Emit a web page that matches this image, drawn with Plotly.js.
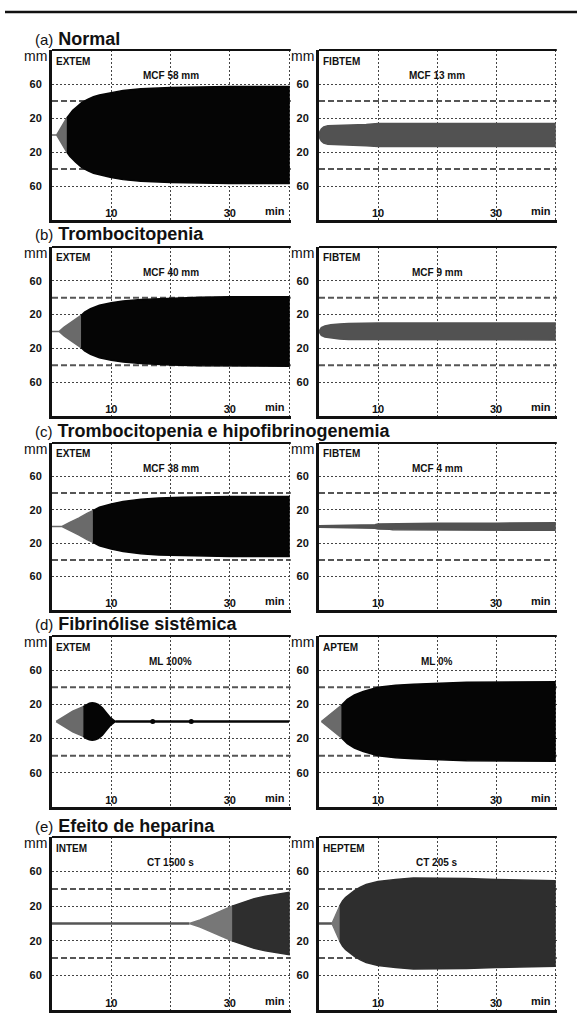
<!DOCTYPE html>
<html><head><meta charset="utf-8">
<script src="https://cdn.plot.ly/plotly-3.0.1.min.js"></script>
<style>html,body{margin:0;padding:0;background:#fff}#chart{width:577px;height:1022px}</style>
</head><body><div id="chart"></div>
<script>
// ---------- text ----------
const ROW_TAGS = ['(a)', '(b)', '(c)', '(d)', '(e)'];
const ROW_TITLES = ['Normal', 'Trombocitopenia', 'Trombocitopenia e hipofibrinogenemia', 'Fibrinólise sistêmica', 'Efeito de heparina'];
const ASSAYS = [['EXTEM', 'FIBTEM'], ['EXTEM', 'FIBTEM'], ['EXTEM', 'FIBTEM'], ['EXTEM', 'APTEM'], ['INTEM', 'HEPTEM']];
const RESULTS = [['MCF 58 mm', 'MCF 13 mm'], ['MCF 40 mm', 'MCF 9 mm'], ['MCF 38 mm', 'MCF 4 mm'], ['ML 100%', 'ML 0%'], ['CT 1500 s', 'CT 205 s']];
const X_TICK_VALS = [10, 20, 30, 40];
const X_TICK_TEXT = ['10', '', '30', ''];
const Y_TICK_VALS = [-60, -20, 20, 60];
const Y_TICK_TEXT = ['60', '20', '20', '60'];
const REF_AMPLITUDES = [40, -40];

// ---------- amplitude data (time in min, amplitude in mm) ----------
// (a) Normal
const A_EXTEM_INIT_T = [0, 0.8, 1.3, 1.9, 2.5];
const A_EXTEM_INIT_MM = [0, 0, 6, 13, 20];
const A_EXTEM_CLOT_T = [2.5, 3, 3.5, 4, 5, 6, 7, 8, 10, 12, 15, 20, 25, 30, 40];
const A_EXTEM_CLOT_MM = [20, 25, 29, 32, 38, 42, 45, 47, 50, 52.5, 54.5, 56, 56.5, 57, 57];
const A_FIBTEM_T = [0, 0.15, 0.4, 0.8, 1.5, 3, 5, 8, 10, 20, 40];
const A_FIBTEM_MM = [0, 4, 7, 9.5, 11, 11.3, 11.5, 12.5, 13.5, 13.5, 13.5];
// (b) Trombocitopenia
const B_EXTEM_INIT_T = [0, 1.2, 2, 3, 4, 4.9];
const B_EXTEM_INIT_MM = [0, 0, 5, 10, 15, 19];
const B_EXTEM_CLOT_T = [4.9, 5.5, 6.5, 8, 10, 12, 15, 20, 25, 30, 40];
const B_EXTEM_CLOT_MM = [19, 23, 27, 31, 34, 36, 38, 39.5, 40.5, 41, 41];
const B_FIBTEM_T = [0, 0.15, 0.4, 1, 2, 3.5, 5, 10, 40];
const B_FIBTEM_MM = [0, 2.5, 4.5, 6.5, 8, 9, 9.5, 10, 10];
// (c) Trombocitopenia e hipofibrinogenemia
const C_EXTEM_INIT_T = [0, 1.7, 3, 4.5, 6, 6.9];
const C_EXTEM_INIT_MM = [0, 0, 5, 10, 16, 19];
const C_EXTEM_CLOT_T = [6.9, 8, 10, 12, 15, 18, 22, 25, 30, 40];
const C_EXTEM_CLOT_MM = [19, 23, 27, 30, 32.5, 34, 35, 35.5, 36, 36];
const C_FIBTEM_T = [0, 2, 5, 9.5, 10, 12, 12.5, 20, 30, 38, 40];
const C_FIBTEM_MM = [1, 1.3, 1.7, 2, 3, 3.2, 4, 4, 4, 4.5, 4.5];
// (d) Fibrinólise sistêmica
const D_EXTEM_INIT_T = [0.7, 2, 3.5, 5.3];
const D_EXTEM_INIT_MM = [0, 6, 12, 17.5];
const D_EXTEM_CLOT_T = [5.3, 5.8, 6.3, 6.8, 7.3, 7.8, 8.5, 9.2, 9.8, 10.7];
const D_EXTEM_CLOT_MM = [17.5, 20, 21.5, 22, 21.5, 20, 16, 10, 5, 0];
const D_EXTEM_LINE_T = [10.7, 40];
const D_EXTEM_LINE_MM = [0, 0];
const D_EXTEM_DOTS_T = [17, 23.5];
const D_EXTEM_DOTS_MM = [0, 0];
const D_APTEM_INIT_T = [0.4, 1.5, 2.6, 3.8];
const D_APTEM_INIT_MM = [0, 6, 12, 19];
const D_APTEM_CLOT_T = [3.8, 4.3, 4.8, 6, 7.5, 10, 13, 16, 20, 25, 40];
const D_APTEM_CLOT_MM = [19, 23, 26, 31, 35, 40, 42.5, 43.5, 45, 46, 46.5];
// (e) Efeito de heparina
const E_INTEM_LINE_T = [0, 23.2];
const E_INTEM_LINE_MM = [0, 0];
const E_INTEM_INIT_T = [23.2, 25, 27, 29, 30.4];
const E_INTEM_INIT_MM = [0, 4, 10, 16, 20];
const E_INTEM_CLOT_T = [30.4, 32, 34, 36, 38, 40];
const E_INTEM_CLOT_MM = [20, 24, 28.5, 31.5, 34, 36];
const E_HEPTEM_LINE_T = [0, 2.2];
const E_HEPTEM_LINE_MM = [0, 0];
const E_HEPTEM_INIT_T = [2.2, 2.8, 3.5];
const E_HEPTEM_INIT_MM = [0, 9, 20];
const E_HEPTEM_CLOT_T = [3.5, 4, 4.5, 5, 6, 7, 8, 10, 13, 16, 20, 25, 30, 35, 40];
const E_HEPTEM_CLOT_MM = [20, 26, 30, 33, 38, 42, 45, 48.5, 51, 52.5, 52.5, 52, 51, 50, 49.5];

// ---------- styling ----------
const W = 577, H = 1022;
const FONT = 'Liberation Sans, Arial, sans-serif';
const COL_PX = [[52, 290.8], [319, 556.8]];
const ROW_PX = [[50, 220], [247, 416], [443, 610], [636, 807], [837, 1010]];
const TITLE_Y_PX = [39, 234, 431, 624, 826];
const C_INIT = '#6a6a6a', C_BLACK = '#050505', C_FIB = '#525252', C_DARK = '#2e2e2e', C_HINIT = '#777777';

const PANELS = [
  [{fills: [[A_EXTEM_INIT_T, A_EXTEM_INIT_MM, C_INIT], [A_EXTEM_CLOT_T, A_EXTEM_CLOT_MM, C_BLACK]]},
   {fills: [[A_FIBTEM_T, A_FIBTEM_MM, C_FIB]]}],
  [{fills: [[B_EXTEM_INIT_T, B_EXTEM_INIT_MM, C_INIT], [B_EXTEM_CLOT_T, B_EXTEM_CLOT_MM, C_BLACK]]},
   {fills: [[B_FIBTEM_T, B_FIBTEM_MM, C_FIB]]}],
  [{fills: [[C_EXTEM_INIT_T, C_EXTEM_INIT_MM, C_INIT], [C_EXTEM_CLOT_T, C_EXTEM_CLOT_MM, C_BLACK]]},
   {fills: [[C_FIBTEM_T, C_FIBTEM_MM, C_FIB]]}],
  [{fills: [[D_EXTEM_INIT_T, D_EXTEM_INIT_MM, C_INIT], [D_EXTEM_CLOT_T, D_EXTEM_CLOT_MM, C_BLACK]],
    lines: [[D_EXTEM_LINE_T, D_EXTEM_LINE_MM, C_BLACK]], dots: [D_EXTEM_DOTS_T, D_EXTEM_DOTS_MM, C_BLACK]},
   {fills: [[D_APTEM_INIT_T, D_APTEM_INIT_MM, C_INIT], [D_APTEM_CLOT_T, D_APTEM_CLOT_MM, C_BLACK]]}],
  [{lines: [[E_INTEM_LINE_T, E_INTEM_LINE_MM, '#555']],
    fills: [[E_INTEM_INIT_T, E_INTEM_INIT_MM, C_HINIT], [E_INTEM_CLOT_T, E_INTEM_CLOT_MM, C_DARK]]},
   {lines: [[E_HEPTEM_LINE_T, E_HEPTEM_LINE_MM, '#555']],
    fills: [[E_HEPTEM_INIT_T, E_HEPTEM_INIT_MM, C_HINIT], [E_HEPTEM_CLOT_T, E_HEPTEM_CLOT_MM, C_DARK]]}]
];

const traces = [];
const layout = {
  width: W, height: H, margin: {l: 0, r: 0, t: 0, b: 0},
  paper_bgcolor: '#fff', plot_bgcolor: '#fff', showlegend: false,
  font: {family: FONT, color: '#111'},
  shapes: [], annotations: []
};

// top rule
layout.shapes.push({type: 'line', xref: 'paper', yref: 'paper', x0: 5 / W, x1: 1, y0: 1 - 12 / H, y1: 1 - 12 / H, line: {color: '#111', width: 2.5}});

for (let r = 0; r < 5; r++) {
  layout.annotations.push({
    xref: 'paper', yref: 'paper', x: 33 / W, y: 1 - TITLE_Y_PX[r] / H, xanchor: 'left', yanchor: 'middle',
    showarrow: false, align: 'left',
    text: '<span style="font-size:15px;font-weight:normal">' + ROW_TAGS[r] + '</span> ' + ROW_TITLES[r],
    font: {family: FONT, size: 18, weight: 'bold', color: '#111'}
  });
  for (let c = 0; c < 2; c++) {
    const i = r * 2 + c + 1;
    const xk = 'xaxis' + (i === 1 ? '' : i), yk = 'yaxis' + (i === 1 ? '' : i);
    const xr = 'x' + (i === 1 ? '' : i), yr = 'y' + (i === 1 ? '' : i);
    layout[xk] = {
      domain: [COL_PX[c][0] / W, COL_PX[c][1] / W], range: [0, 40.3], anchor: yr,
      tickmode: 'array', tickvals: X_TICK_VALS, ticktext: X_TICK_TEXT, ticklabelposition: 'inside',
      ticks: '', showgrid: true, gridcolor: '#444', gridwidth: 1, griddash: '2px,2px',
      showline: true, linecolor: '#111', linewidth: 3, zeroline: false, fixedrange: true,
      tickfont: {family: FONT, size: 11, weight: 'bold', color: '#111'}
    };
    layout[yk] = {
      domain: [1 - ROW_PX[r][1] / H, 1 - ROW_PX[r][0] / H], range: [-100, 100], anchor: xr,
      tickmode: 'array', tickvals: Y_TICK_VALS, ticktext: Y_TICK_TEXT, ticklabelstandoff: 5,
      ticks: '', showgrid: true, gridcolor: '#444', gridwidth: 1, griddash: '2px,2px',
      showline: true, linecolor: '#111', linewidth: 3, zeroline: false, fixedrange: true,
      tickfont: {family: FONT, size: 11, weight: 'bold', color: '#111'}
    };
    layout.shapes.push({type: 'line', xref: xr + ' domain', yref: yr + ' domain', x0: 0, x1: 1, y0: 1, y1: 1, line: {color: '#111', width: 2}});
    REF_AMPLITUDES.forEach(v => layout.shapes.push({type: 'line', layer: 'below', xref: xr + ' domain', yref: yr, x0: 0, x1: 1, y0: v, y1: v, line: {color: '#555', width: 2, dash: '6px,3px'}}));
    layout.annotations.push({xref: xr + ' domain', yref: yr + ' domain', x: 0, y: 1, xanchor: 'right', yanchor: 'middle', xshift: -3, yshift: -6, showarrow: false, text: 'mm', font: {family: FONT, size: 14, color: '#111'}});
    layout.annotations.push({xref: xr, yref: yr + ' domain', x: 40, y: 0, xanchor: 'right', yanchor: 'bottom', xshift: -2, yshift: 1, showarrow: false, text: 'min', font: {family: FONT, size: 11, weight: 'bold', color: '#111'}});
    layout.annotations.push({xref: xr, yref: yr, x: 0.4, y: 87, xanchor: 'left', yanchor: 'middle', showarrow: false, text: ASSAYS[r][c], font: {family: FONT, size: 10, weight: 'bold', color: '#111'}});
    layout.annotations.push({xref: xr, yref: yr, x: 20, y: 70, xanchor: 'center', yanchor: 'middle', showarrow: false, text: RESULTS[r][c], font: {family: FONT, size: 10, weight: 'bold', color: '#111'}});

    const p = PANELS[r][c];
    (p.lines || []).forEach(([t, a, col]) => traces.push({type: 'scatter', mode: 'lines', x: t, y: a, xaxis: xr, yaxis: yr, line: {color: col, width: 2.5}, hoverinfo: 'skip'}));
    (p.fills || []).forEach(([t, a, col]) => {
      const x = t.concat(t.slice().reverse());
      const y = a.concat(a.map(v => -v).reverse());
      traces.push({type: 'scatter', mode: 'lines', x: x, y: y, xaxis: xr, yaxis: yr, fill: 'toself', fillcolor: col, line: {color: col, width: 1.5}, hoverinfo: 'skip'});
    });
    if (p.dots) traces.push({type: 'scatter', mode: 'markers', x: p.dots[0], y: p.dots[1], xaxis: xr, yaxis: yr, marker: {color: p.dots[2], size: 5}, hoverinfo: 'skip'});
  }
}

Plotly.newPlot('chart', traces, layout, {staticPlot: true, displayModeBar: false});
</script></body></html>
